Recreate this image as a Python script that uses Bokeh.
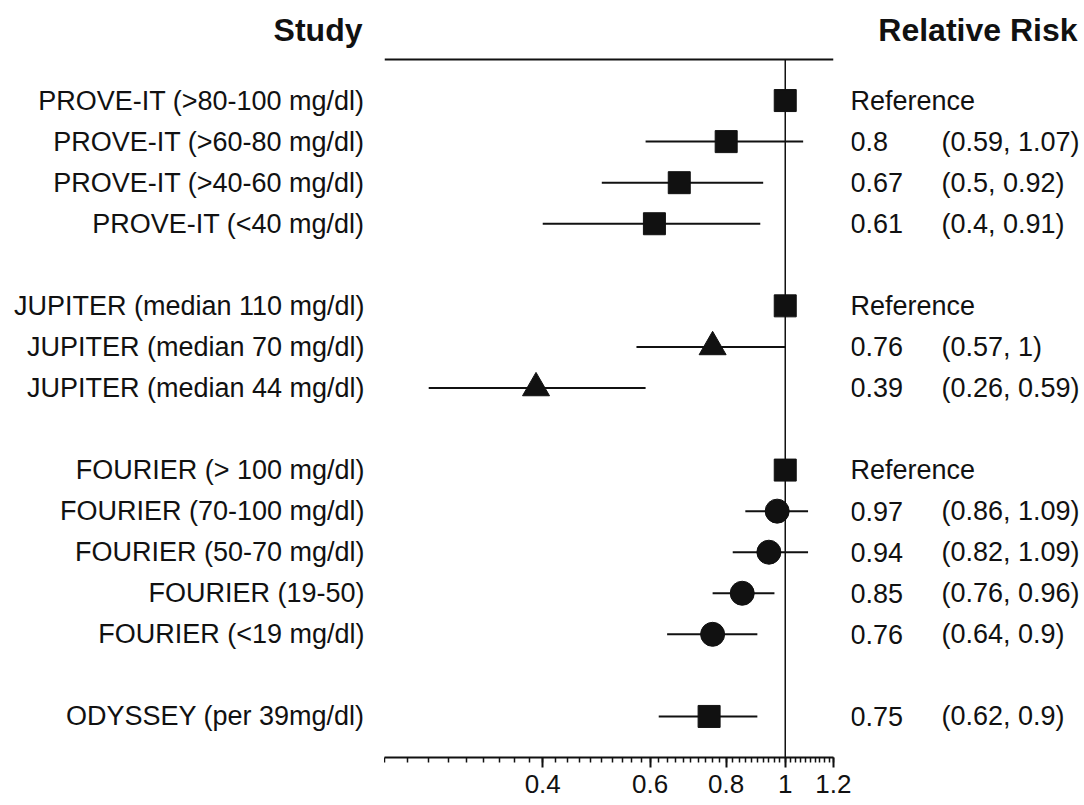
from bokeh.plotting import figure
from bokeh.layouts import row
from bokeh.models import (ColumnDataSource, FixedTicker, Span, Range1d)
from bokeh.core.properties import value
from bokeh.embed import file_html
from bokeh.resources import INLINE

# ---------------- data ----------------
studies = [
    "PROVE-IT (>80-100 mg/dl)", "PROVE-IT (>60-80 mg/dl)", "PROVE-IT (>40-60 mg/dl)",
    "PROVE-IT (<40 mg/dl)",
    "JUPITER (median 110 mg/dl)", "JUPITER (median 70 mg/dl)", "JUPITER (median 44 mg/dl)",
    "FOURIER (> 100 mg/dl)", "FOURIER (70-100 mg/dl)", "FOURIER (50-70 mg/dl)",
    "FOURIER (19-50)", "FOURIER (<19 mg/dl)",
    "ODYSSEY (per 39mg/dl)",
]
rows = [0, 1, 2, 3, 5, 6, 7, 9, 10, 11, 12, 13, 15]
rr = [1.0, 0.80, 0.67, 0.61, 1.0, 0.76, 0.39, 1.0, 0.97, 0.94, 0.85, 0.76, 0.75]
ci_lo = [None, 0.59, 0.50, 0.40, None, 0.57, 0.26, None, 0.86, 0.82, 0.76, 0.64, 0.62]
ci_hi = [None, 1.07, 0.92, 0.91, None, 1.00, 0.59, None, 1.09, 1.09, 0.96, 0.90, 0.90]
markers = ["square", "square", "square", "square",
           "square", "triangle", "triangle",
           "square", "circle", "circle", "circle", "circle",
           "square"]
rr_text = ["Reference", "0.8", "0.67", "0.61",
           "Reference", "0.76", "0.39",
           "Reference", "0.97", "0.94", "0.85", "0.76",
           "0.75"]
ci_text = ["", "(0.59, 1.07)", "(0.5, 0.92)", "(0.4, 0.91)",
           "", "(0.57, 1)", "(0.26, 0.59)",
           "", "(0.86, 1.09)", "(0.82, 1.09)", "(0.76, 0.96)", "(0.64, 0.9)",
           "(0.62, 0.9)"]
left_heading = "Study"
right_heading = "Relative Risk"
major_ticks = [0.4, 0.6, 0.8, 1.0, 1.2]
major_labels = ["0.4", "0.6", "0.8", "1", "1.2"]
minor_ticks = [round(0.22 + 0.02 * i, 2) for i in range(50)]

# ---------------- layout / styling ----------------
FONT = "Liberation Sans"
INK = "#111111"
H = 805
RULE_Y = 59                   # pixel height of the top rule
BOTTOM = 48                   # bottom border (x axis)
ROW_MIN, ROW_MAX = -1, 16     # top rule row / axis row
HEAD_ROW = -1.72
marker_size = {"square": 22, "circle": 24, "triangle": 27}

# all frames start at the very top; compute the row shown there
frame_h = H - BOTTOM
px_per_row = (frame_h - RULE_Y) / (ROW_MAX - ROW_MIN)
top_row = ROW_MIN - RULE_Y / px_per_row

src = ColumnDataSource(dict(
    row=rows, rr=rr, study=studies, rr_text=rr_text, ci_text=ci_text,
    marker=markers, size=[marker_size[m] for m in markers],
))
ci_idx = [i for i, v in enumerate(ci_lo) if v is not None]
ci_src = ColumnDataSource(dict(
    row=[rows[i] for i in ci_idx],
    lo=[ci_lo[i] for i in ci_idx],
    hi=[ci_hi[i] for i in ci_idx],
))


def text_panel(width):
    f = figure(width=width, height=H, x_range=Range1d(0, 1),
               y_range=Range1d(ROW_MAX, top_row),
               x_axis_location=None, y_axis_location=None,
               output_backend="svg", toolbar_location=None,
               min_border=0, min_border_bottom=BOTTOM)
    f.grid.visible = False
    f.outline_line_color = None
    return f


txt = dict(text_font=value(FONT), text_font_size="27px", text_color=INK,
           text_baseline="middle")
head = dict(text_font=value(FONT), text_font_size="32px", text_color=INK,
            text_baseline="middle", text_font_style="bold")

# ---- left text panel ----
left = text_panel(384)
left.text(x=1, y="row", text="study", source=src, text_align="right",
          x_offset=-20, **txt)
left.text(x=[1], y=[HEAD_ROW], text=[left_heading], text_align="right",
          x_offset=-22, **head)

# ---- forest panel ----
p = figure(width=467, height=H, x_axis_type="log",
           x_range=Range1d(0.22, 1.2), y_range=Range1d(ROW_MAX, top_row),
           y_axis_location=None, output_backend="svg", toolbar_location=None,
           min_border=0, min_border_bottom=BOTTOM,
           min_border_left=0, min_border_right=18)
p.grid.visible = False
p.outline_line_color = None

# top rule and line of no effect
p.add_layout(Span(location=ROW_MIN, dimension="width", line_color=INK, line_width=2))
p.segment(x0=[1.0], y0=[ROW_MIN], x1=[1.0], y1=[ROW_MAX], line_color=INK,
          line_width=1.5)
p.segment(x0="lo", y0="row", x1="hi", y1="row", source=ci_src,
          line_color=INK, line_width=2)
p.scatter(x="rr", y="row", marker="marker", size="size", source=src,
          fill_color=INK, line_color=INK)

ax = p.xaxis[0]
ax.ticker = FixedTicker(ticks=major_ticks, minor_ticks=minor_ticks)
ax.major_label_overrides = {t: l for t, l in zip(major_ticks, major_labels)}
ax.axis_line_width = 2
ax.axis_line_color = INK
ax.major_tick_line_width = 2
ax.major_tick_line_color = INK
ax.major_tick_in = 0
ax.major_tick_out = 10
ax.minor_tick_line_width = 1.5
ax.minor_tick_line_color = INK
ax.minor_tick_in = 0
ax.minor_tick_out = 5
ax.major_label_text_font = FONT
ax.major_label_text_font_size = "26px"
ax.major_label_text_color = INK
ax.major_label_standoff = 7

# ---- right text panel ----
right = text_panel(233)
right.text(x=0, y="row", text="rr_text", source=src, text_align="left",
           x_offset=-1, **txt)
right.text(x=0, y="row", text="ci_text", source=src, text_align="left",
           x_offset=90, **txt)
right.text(x=[1], y=[HEAD_ROW], text=[right_heading], text_align="right",
           x_offset=-7, **head)

layout = row(left, p, right, spacing=0)
open("out.html", "w").write(file_html(layout, INLINE))
